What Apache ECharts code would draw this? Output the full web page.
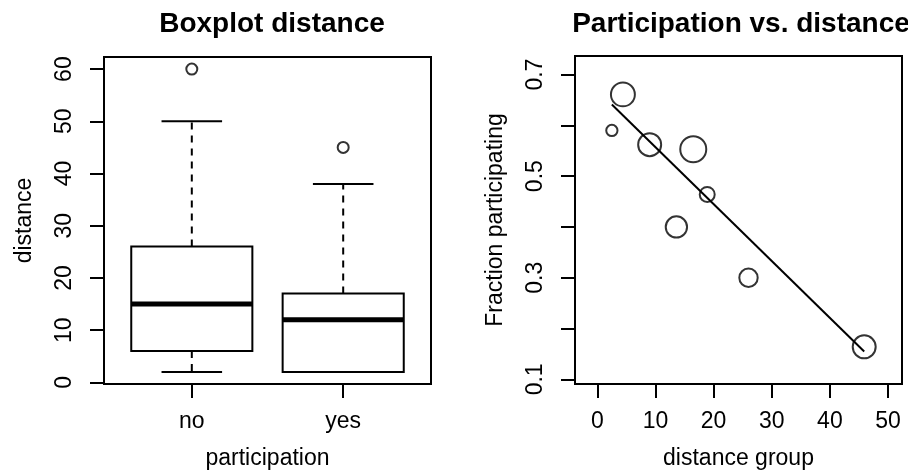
<!DOCTYPE html>
<html>
<head>
<meta charset="utf-8">
<title>Distance and participation</title>
<script src="https://cdn.jsdelivr.net/npm/echarts@6/dist/echarts.min.js"></script>
<style>
  html, body { margin: 0; padding: 0; background: #fff; }
  #chart { width: 908px; height: 476px; }
</style>
</head>
<body>
<div id="chart"></div>
<script>
// Boxplot summary per participation group
const categories = ['no', 'yes'];
const boxLow = [2, 2];
const boxQ1 = [6, 2];
const boxMedian = [15, 12];
const boxQ3 = [26, 17];
const boxHigh = [50, 38];
const outlierGroup = ['no', 'yes'];
const outlierDistance = [60, 45];

// Fraction participating per distance group (circle area ~ group count)
const groupDistance = [2.5, 4.4, 9.0, 13.6, 16.5, 18.9, 26.0, 45.9];
const fractionParticipating = [0.59, 0.661, 0.562, 0.40, 0.553, 0.464, 0.30, 0.164];
const groupCount = [11, 42, 39, 34, 49, 18, 26, 39];

// Linear fit of fraction on distance
const fitIntercept = 0.669;
const fitSlope = -0.0112;

// Tick values
const leftTicks = [0, 10, 20, 30, 40, 50, 60];
const rightYTicks = [0.1, 0.2, 0.3, 0.4, 0.5, 0.6, 0.7];
const rightYLabels = [0.1, 0.3, 0.5, 0.7];
const rightXTicks = [0, 10, 20, 30, 40, 50];

const FONT = 'Liberation Sans, Arial, Helvetica, sans-serif';
const INK = '#000';
const LW = 2;

const boxData = categories.map((c, i) => [i + 1, boxLow[i], boxQ1[i], boxMedian[i], boxQ3[i], boxHigh[i]]);
const outlierData = outlierGroup.map((g, i) => [categories.indexOf(g) + 1, outlierDistance[i]]);
const bubbleData = groupDistance.map((d, i) => [d, fractionParticipating[i], groupCount[i]]);
const xFitMin = Math.min(...groupDistance);
const xFitMax = Math.max(...groupDistance);
const fitData = [
  [xFitMin, fitIntercept + fitSlope * xFitMin],
  [xFitMax, fitIntercept + fitSlope * xFitMax]
];

function renderBox(params, api) {
  const x = api.value(0);
  const low = api.value(1), q1 = api.value(2), med = api.value(3), q3 = api.value(4), high = api.value(5);
  const halfBox = 0.4, halfCap = 0.2;
  const pL = api.coord([x - halfBox, 0])[0];
  const pR = api.coord([x + halfBox, 0])[0];
  const cL = api.coord([x - halfCap, 0])[0];
  const cR = api.coord([x + halfCap, 0])[0];
  const cx = api.coord([x, 0])[0];
  const yLow = api.coord([x, low])[1];
  const yQ1 = api.coord([x, q1])[1];
  const yMed = api.coord([x, med])[1];
  const yQ3 = api.coord([x, q3])[1];
  const yHigh = api.coord([x, high])[1];
  const solid = { stroke: INK, lineWidth: LW, fill: null };
  const dashed = { stroke: INK, lineWidth: LW, lineDash: [7, 6], fill: null };
  const children = [
    { type: 'line', shape: { x1: cx, y1: yQ3, x2: cx, y2: yHigh }, style: dashed },
    { type: 'line', shape: { x1: cx, y1: yQ1, x2: cx, y2: yLow }, style: dashed },
    { type: 'line', shape: { x1: cL, y1: yHigh, x2: cR, y2: yHigh }, style: solid },
    { type: 'line', shape: { x1: cL, y1: yLow, x2: cR, y2: yLow }, style: solid },
    { type: 'rect', shape: { x: pL, y: yQ3, width: pR - pL, height: yQ1 - yQ3 }, style: { stroke: INK, lineWidth: LW, fill: '#fff' } },
    { type: 'line', shape: { x1: pL, y1: yMed, x2: pR, y2: yMed }, style: { stroke: INK, lineWidth: 5 } }
  ];
  return { type: 'group', children };
}

const labelBase = { color: INK, fontSize: 23, fontFamily: FONT };
const nameBase = { color: INK, fontSize: 23, fontFamily: FONT };
const tickBase = { show: true, length: 14, inside: false, lineStyle: { color: INK, width: LW } };
const hiddenLine = { show: false, onZero: false };

const chart = echarts.init(document.getElementById('chart'), null, { renderer: 'canvas' });
chart.setOption({
  backgroundColor: '#fff',
  animation: false,
  title: [
    { text: 'Boxplot distance', left: 267, top: 5, textAlign: 'center',
      textStyle: { fontSize: 28, fontWeight: 'bold', color: INK, fontFamily: FONT } },
    { text: 'Participation vs. distance', left: 736, top: 5, textAlign: 'center',
      textStyle: { fontSize: 28, fontWeight: 'bold', color: INK, fontFamily: FONT } }
  ],
  grid: [
    { left: 104, right: 477, top: 57, bottom: 92, show: true, borderColor: INK, borderWidth: LW, backgroundColor: 'transparent' },
    { left: 575, right: 6, top: 56, bottom: 92, show: true, borderColor: INK, borderWidth: LW, backgroundColor: 'transparent' }
  ],
  xAxis: [
    {
      type: 'value', gridIndex: 0, min: 0.42, max: 2.58,
      axisLine: hiddenLine, splitLine: { show: false },
      axisTick: Object.assign({ customValues: categories.map((c, i) => i + 1) }, tickBase),
      axisLabel: Object.assign({ customValues: categories.map((c, i) => i + 1), margin: 26,
        formatter: v => categories[Math.round(v) - 1] }, labelBase),
      name: 'participation', nameLocation: 'middle', nameGap: 63, nameTextStyle: nameBase
    },
    {
      type: 'value', gridIndex: 1, min: -3.84, max: 52.4,
      axisLine: hiddenLine, splitLine: { show: false },
      axisTick: Object.assign({ customValues: rightXTicks }, tickBase),
      axisLabel: Object.assign({ customValues: rightXTicks, margin: 26 }, labelBase),
      name: 'distance group', nameLocation: 'middle', nameGap: 63, nameTextStyle: nameBase
    }
  ],
  yAxis: [
    {
      type: 'value', gridIndex: 0, min: -0.32, max: 62.32,
      axisLine: hiddenLine, splitLine: { show: false },
      axisTick: Object.assign({ customValues: leftTicks }, tickBase),
      axisLabel: Object.assign({ customValues: leftTicks, rotate: 90, margin: 28 }, labelBase),
      name: 'distance', nameLocation: 'middle', nameGap: 68, nameTextStyle: nameBase
    },
    {
      type: 'value', gridIndex: 1, min: 0.0908, max: 0.7366,
      axisLine: hiddenLine, splitLine: { show: false },
      axisTick: Object.assign({ customValues: rightYTicks }, tickBase),
      axisLabel: Object.assign({ customValues: rightYLabels, rotate: 90, margin: 28,
        formatter: v => v.toFixed(1) }, labelBase),
      name: 'Fraction participating', nameLocation: 'middle', nameGap: 68, nameTextStyle: nameBase
    }
  ],
  series: [
    {
      type: 'custom', xAxisIndex: 0, yAxisIndex: 0,
      renderItem: renderBox, data: boxData,
      encode: { x: 0, y: [1, 2, 3, 4, 5] }, silent: true
    },
    {
      type: 'scatter', xAxisIndex: 0, yAxisIndex: 0, data: outlierData,
      symbol: 'circle', symbolSize: 11,
      itemStyle: { color: 'rgba(0,0,0,0)', borderColor: INK, borderWidth: LW }, silent: true
    },
    {
      type: 'line', xAxisIndex: 1, yAxisIndex: 1, data: fitData,
      showSymbol: false, lineStyle: { color: INK, width: LW }, silent: true, z: 1
    },
    {
      type: 'scatter', xAxisIndex: 1, yAxisIndex: 1, data: bubbleData,
      symbol: 'circle', symbolSize: d => 4 * Math.sqrt(d[2]) - LW,
      itemStyle: { color: 'rgba(0,0,0,0)', borderColor: INK, borderWidth: LW }, silent: true, z: 2
    }
  ]
});
</script>
</body>
</html>
